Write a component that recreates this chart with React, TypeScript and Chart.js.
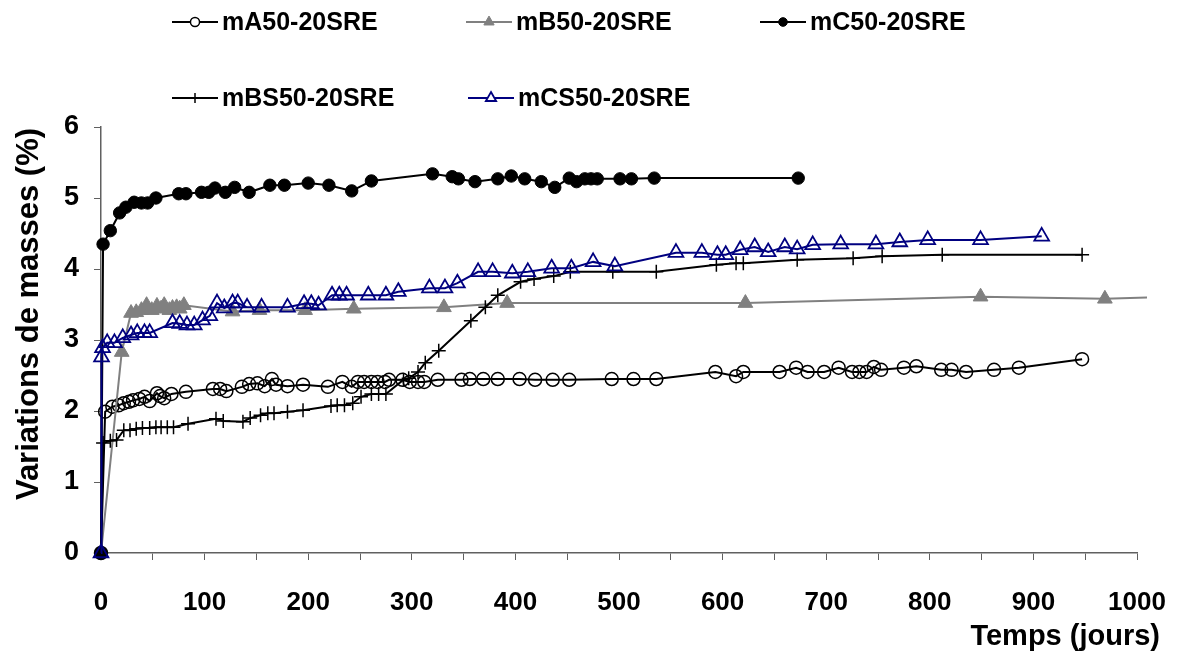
import React, { useEffect, useRef } from "react";
import { Chart, registerables } from "chart.js";

Chart.register(...registerables);

const seriesNames = ["mA50-20SRE", "mB50-20SRE", "mC50-20SRE", "mBS50-20SRE", "mCS50-20SRE"];

const mADays = [0, 4, 11, 17, 22, 27, 31, 37, 42, 47, 54, 57, 61, 68, 82, 108, 115, 121, 136, 143, 151, 158, 165, 169, 180, 195, 219, 233, 242, 248, 254, 261, 267, 274, 278, 291, 298, 306, 312, 325, 348, 356, 369, 383, 404, 419, 436, 452, 493, 514, 536, 593, 613, 620, 655, 671, 682, 698, 712, 725, 732, 739, 746, 753, 775, 787, 811, 821, 835, 862, 886, 947];
const mAValues = [0, 1.99, 2.06, 2.08, 2.11, 2.13, 2.15, 2.17, 2.2, 2.14, 2.25, 2.21, 2.18, 2.24, 2.27, 2.31, 2.31, 2.28, 2.34, 2.38, 2.39, 2.35, 2.45, 2.37, 2.35, 2.37, 2.34, 2.41, 2.34, 2.41, 2.41, 2.41, 2.41, 2.41, 2.44, 2.44, 2.41, 2.41, 2.41, 2.44, 2.44, 2.45, 2.45, 2.45, 2.45, 2.44, 2.44, 2.44, 2.45, 2.45, 2.45, 2.55, 2.49, 2.55, 2.55, 2.61, 2.55, 2.55, 2.61, 2.55, 2.55, 2.55, 2.62, 2.58, 2.61, 2.63, 2.58, 2.58, 2.55, 2.58, 2.61, 2.73];

const mBDays = [0, 20, 29, 34, 39, 44, 49, 54, 58, 61, 66, 69, 73, 76, 80, 127, 153, 197, 244, 331, 392, 622, 849, 969, 1060];
const mBValues = [0, 2.83, 3.38, 3.39, 3.42, 3.49, 3.42, 3.48, 3.44, 3.49, 3.42, 3.45, 3.46, 3.44, 3.49, 3.4, 3.42, 3.42, 3.44, 3.46, 3.52, 3.52, 3.61, 3.58, 3.62];

const mCDays = [0, 2, 9, 18, 24, 32, 39, 45, 53, 75, 82, 97, 104, 110, 120, 129, 143, 163, 177, 200, 220, 242, 261, 320, 339, 345, 361, 383, 396, 409, 425, 438, 452, 459, 467, 473, 479, 501, 512, 534, 673];
const mCValues = [0, 4.35, 4.54, 4.79, 4.87, 4.94, 4.93, 4.93, 5.0, 5.06, 5.06, 5.08, 5.08, 5.14, 5.08, 5.15, 5.08, 5.18, 5.18, 5.21, 5.18, 5.1, 5.24, 5.34, 5.3, 5.27, 5.23, 5.27, 5.31, 5.27, 5.23, 5.15, 5.28, 5.23, 5.27, 5.27, 5.27, 5.27, 5.27, 5.28, 5.28];

const mBSDays = [0, 2, 9, 15, 22, 28, 34, 40, 47, 53, 58, 64, 70, 84, 111, 118, 137, 144, 154, 161, 167, 180, 195, 222, 228, 235, 243, 251, 261, 268, 275, 292, 297, 306, 313, 326, 357, 371, 383, 405, 418, 437, 453, 494, 536, 594, 613, 620, 672, 726, 754, 812, 947];
const mBSValues = [0, 1.55, 1.58, 1.59, 1.73, 1.73, 1.75, 1.76, 1.76, 1.77, 1.77, 1.77, 1.77, 1.82, 1.89, 1.86, 1.85, 1.9, 1.94, 1.97, 1.97, 1.99, 2.01, 2.07, 2.08, 2.08, 2.11, 2.2, 2.24, 2.24, 2.24, 2.44, 2.46, 2.55, 2.68, 2.85, 3.27, 3.46, 3.63, 3.82, 3.86, 3.9, 3.96, 3.96, 3.96, 4.06, 4.08, 4.08, 4.13, 4.15, 4.18, 4.2, 4.2];

const mCSDays = [0, 0.5, 1.5, 6, 13, 21, 29, 35, 42, 47, 69, 76, 83, 90, 98, 105, 112, 119, 127, 132, 141, 155, 180, 196, 203, 210, 223, 230, 237, 258, 275, 287, 317, 332, 344, 364, 378, 397, 412, 435, 454, 475, 496, 555, 580, 595, 603, 617, 631, 644, 660, 672, 687, 714, 748, 771, 798, 849, 908];
const mCSValues = [0, 2.76, 2.89, 2.96, 2.96, 3.03, 3.07, 3.1, 3.1, 3.1, 3.24, 3.23, 3.21, 3.21, 3.28, 3.34, 3.52, 3.45, 3.52, 3.52, 3.46, 3.46, 3.46, 3.51, 3.51, 3.49, 3.63, 3.63, 3.63, 3.63, 3.63, 3.68, 3.73, 3.73, 3.8, 3.96, 3.96, 3.94, 3.96, 4.01, 4.01, 4.1, 4.04, 4.23, 4.23, 4.2, 4.2, 4.27, 4.31, 4.24, 4.31, 4.28, 4.34, 4.35, 4.35, 4.38, 4.41, 4.41, 4.46];

const xTickLabels = [0, 100, 200, 300, 400, 500, 600, 700, 800, 900, 1000];
const yTickLabels = [0, 1, 2, 3, 4, 5, 6];
const xTitle = "Temps (jours)";
const yTitle = "Variations de masses (%)";

const FONT = "'Liberation Sans', Arial, Helvetica, sans-serif";
const NAVY = "#000080";
const GRAY = "#808080";

const toPoints = (xs: number[], ys: number[]) => xs.map((x, i) => ({ x, y: ys[i] }));

type Style = { marker: string; color: string; fill: string; radius: number; lw: number };
const styles: Style[] = [
  { marker: "circle", color: "#000000", fill: "rgba(0,0,0,0)", radius: 6.5, lw: 1.5 },
  { marker: "triangle", color: GRAY, fill: GRAY, radius: 8.5, lw: 1 },
  { marker: "circle", color: "#000000", fill: "#000000", radius: 6.2, lw: 1 },
  { marker: "cross", color: "#000000", fill: "#000000", radius: 7, lw: 1.5 },
  { marker: "triangle", color: NAVY, fill: "rgba(0,0,0,0)", radius: 8.5, lw: 1.8 },
];

function drawMarker(ctx: CanvasRenderingContext2D, s: Style, x: number, y: number, r: number) {
  ctx.beginPath();
  if (s.marker === "circle") {
    ctx.arc(x, y, r, 0, Math.PI * 2);
  } else if (s.marker === "triangle") {
    for (let k = 0; k < 3; k++) {
      const a = (k * 2 * Math.PI) / 3;
      const px = x + Math.sin(a) * r;
      const py = y - Math.cos(a) * r;
      if (k === 0) ctx.moveTo(px, py);
      else ctx.lineTo(px, py);
    }
    ctx.closePath();
  } else {
    ctx.moveTo(x - r, y);
    ctx.lineTo(x + r, y);
    ctx.moveTo(x, y - r);
    ctx.lineTo(x, y + r);
  }
  if (s.marker !== "cross") {
    ctx.fillStyle = s.fill;
    ctx.fill();
  }
  ctx.strokeStyle = s.color;
  ctx.lineWidth = s.lw;
  ctx.stroke();
}

const overlayPlugin = {
  id: "overlayText",
  afterDraw(chart: any) {
    const ctx: CanvasRenderingContext2D = chart.ctx;
    ctx.save();
    // legend (3 items on first row, 2 on second)
    const slots = [
      [172, 22],
      [466, 22],
      [760, 22],
      [172, 98],
      [468, 98],
    ];
    ctx.font = `bold 25px ${FONT}`;
    ctx.textBaseline = "middle";
    ctx.textAlign = "left";
    seriesNames.forEach((name, i) => {
      const [lx, ly] = slots[i];
      const s = styles[i];
      ctx.beginPath();
      ctx.moveTo(lx, ly);
      ctx.lineTo(lx + 46, ly);
      ctx.strokeStyle = s.color;
      ctx.lineWidth = 2;
      ctx.stroke();
      drawMarker(ctx, { ...s, fill: s.fill === "rgba(0,0,0,0)" ? "#ffffff" : s.fill }, lx + 23, ly, s.radius * 0.7);
      ctx.fillStyle = "#000";
      ctx.fillText(name, lx + 50, ly + 1);
    });
    // axis titles
    ctx.fillStyle = "#000";
    ctx.font = `bold 29px ${FONT}`;
    ctx.textAlign = "right";
    ctx.textBaseline = "middle";
    ctx.fillText(xTitle, 1160, 637);
    ctx.font = `bold 31px ${FONT}`;
    ctx.translate(29, 314);
    ctx.rotate(-Math.PI / 2);
    ctx.textAlign = "center";
    ctx.fillText(yTitle, 0, 0);
    ctx.restore();
  },
};

export default function App() {
  const ref = useRef<HTMLCanvasElement>(null);
  useEffect(() => {
    if (!ref.current) return;
    const series = [
      toPoints(mADays, mAValues),
      toPoints(mBDays, mBValues),
      toPoints(mCDays, mCValues),
      toPoints(mBSDays, mBSValues),
      toPoints(mCSDays, mCSValues),
    ];
    const datasets = series.map((data, i) => {
      const s = styles[i];
      return {
        label: seriesNames[i],
        data,
        borderColor: s.color,
        borderWidth: 2,
        backgroundColor: s.fill,
        pointStyle: s.marker,
        pointRadius: s.radius,
        pointBorderWidth: s.lw,
        pointBorderColor: s.color,
        pointBackgroundColor: s.fill,
        pointHoverRadius: s.radius,
        tension: 0,
        fill: false,
        order: 4 - i,
        clip: i === 1 ? { left: 20, top: 20, right: 10, bottom: 20 } : false,
      };
    });
    const chart = new Chart(ref.current, {
      type: "line",
      data: { datasets } as any,
      plugins: [overlayPlugin],
      options: {
        responsive: false,
        animation: false,
        devicePixelRatio: 1,
        events: [],
        layout: { padding: { top: 127, right: 43, left: 0, bottom: 0 } },
        plugins: { legend: { display: false }, tooltip: { enabled: false }, title: { display: false } },
        scales: {
          x: {
            type: "linear",
            min: 0,
            max: 1000,
            afterFit: (scale: any) => {
              scale.height = 101;
              scale.paddingRight = 0;
              scale.paddingLeft = 0;
            },
            border: { display: true, color: "#606060", width: 1.5 },
            grid: { drawOnChartArea: false, drawTicks: true, tickLength: 7, color: "#606060", lineWidth: 1 },
            afterBuildTicks: (scale: any) => {
              const t = [];
              for (let v = 0; v <= 1000; v += 50) t.push({ value: v });
              scale.ticks = t;
            },
            ticks: {
              autoSkip: false,
              maxRotation: 0,
              padding: 27,
              color: "#000",
              font: { family: FONT, size: 26, weight: "bold" },
              callback: (v: any) => (xTickLabels.includes(Number(v)) ? String(v) : ""),
            },
          },
          y: {
            type: "linear",
            min: 0,
            max: 6,
            afterFit: (scale: any) => {
              scale.width = 101;
              scale.paddingTop = 0;
              scale.paddingBottom = 0;
            },
            border: { display: true, color: "#606060", width: 1.5 },
            grid: { drawOnChartArea: false, drawTicks: true, tickLength: 7, color: "#606060", lineWidth: 1 },
            ticks: {
              stepSize: 1,
              padding: 15,
              color: "#000",
              font: { family: FONT, size: 27, weight: "bold" },
              callback: (v: any) => (yTickLabels.includes(Number(v)) ? String(v) : ""),
            },
          },
        },
      } as any,
    });
    return () => chart.destroy();
  }, []);
  return (
    <div style={{ position: "fixed", left: 0, top: 0, width: 1180, height: 654, background: "#ffffff" }}>
      <canvas ref={ref} width={1180} height={654} style={{ width: 1180, height: 654, display: "block" }} />
    </div>
  );
}
